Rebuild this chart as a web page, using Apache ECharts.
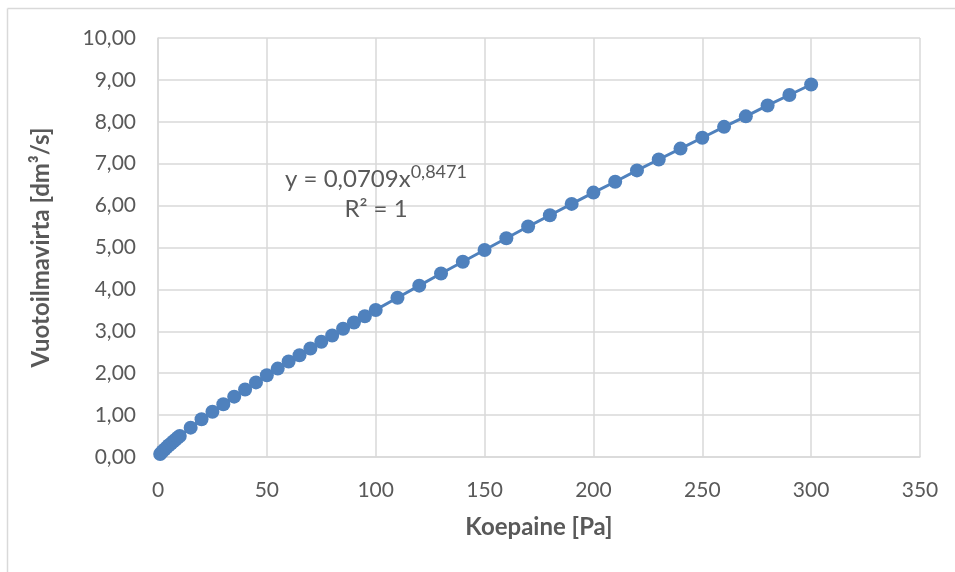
<!DOCTYPE html>
<html>
<head>
<meta charset="utf-8">
<script src="https://cdn.jsdelivr.net/npm/echarts@6/dist/echarts.min.js"></script>
<style>
html,body{margin:0;padding:0;background:#fff;}
#chart{width:955px;height:572px;}
</style>
</head>
<body>
<div id="chart"></div>
<script>
// Koepaine [Pa]
const pressures = [1,2,3,4,5,6,7,8,9,10,15,20,25,30,35,40,45,50,55,60,65,70,75,80,85,90,95,100,
  110,120,130,140,150,160,170,180,190,200,210,220,230,240,250,260,270,280,290,300];
// Vuotoilmavirta [dm3/s]
const flows = [0.07,0.13,0.18,0.23,0.28,0.32,0.37,0.41,0.46,0.50,0.70,0.90,1.08,1.26,1.44,1.61,1.78,1.95,2.11,2.28,2.43,2.59,2.75,2.90,3.06,3.21,3.36,3.51,
  3.80,4.09,4.38,4.66,4.94,5.22,5.50,5.77,6.04,6.31,6.57,6.84,7.10,7.36,7.62,7.88,8.13,8.39,8.64,8.89];
const xTicks = {min:0, max:350, interval:50};
const yTicks = {min:0, max:10, interval:1};
const xTitle = 'Koepaine [Pa]';
const yTitle = 'Vuotoilmavirta [dm³/s]';
const eqText = 'y = 0,0709x';
const eqExp = '0,8471';
const r2Text = 'R² = 1';

const font = 'Lato, "Open Sans", sans-serif';
const chart = echarts.init(document.getElementById('chart'));
const points = pressures.map((p,i)=>[p, flows[i]]);
chart.setOption({
  animation:false,
  backgroundColor:'#ffffff',
  grid:{left:158, right:35, top:38, bottom:115, containLabel:false},
  xAxis:{
    type:'value', min:xTicks.min, max:xTicks.max, interval:xTicks.interval,
    name:xTitle, nameLocation:'middle', nameGap:58,
    nameTextStyle:{fontFamily:font, fontSize:24, fontWeight:'bold', color:'#595959'},
    axisLine:{show:true, lineStyle:{color:'#d9d9d9', width:1.5}},
    axisTick:{show:false},
    axisLabel:{fontFamily:font, fontSize:21, color:'#595959', margin:23},
    splitLine:{show:true, lineStyle:{color:'#d9d9d9', width:1.5}}
  },
  yAxis:{
    type:'value', min:yTicks.min, max:yTicks.max, interval:yTicks.interval,
    name:yTitle, nameLocation:'middle', nameGap:105, nameRotate:90,
    nameTextStyle:{fontFamily:font, fontSize:24, fontWeight:'bold', color:'#595959'},
    axisLine:{show:true, lineStyle:{color:'#d9d9d9', width:1.5}},
    axisTick:{show:false},
    axisLabel:{fontFamily:font, fontSize:21, color:'#595959', margin:22,
      formatter:v=>v.toFixed(2).replace('.',',')},
    splitLine:{show:true, lineStyle:{color:'#d9d9d9', width:1.5}}
  },
  series:[{
    type:'line', data:points, symbol:'circle', symbolSize:14,
    itemStyle:{color:'#4F81BD'},
    lineStyle:{color:'#4F81BD', width:3},
    z:5
  }],
  graphic:[
    {type:'line', shape:{x1:7.5,y1:8.5,x2:955,y2:8.5}, style:{stroke:'#d9d9d9', lineWidth:1.5}, silent:true},
    {type:'line', shape:{x1:7.5,y1:8.5,x2:7.5,y2:572}, style:{stroke:'#d9d9d9', lineWidth:1.5}, silent:true},
    {type:'text', x:376, y:163, z:10,
      style:{text:'{a|'+eqText+'}{b|'+eqExp+'}', align:'center', rich:{
        a:{fontFamily:font, fontSize:24, fill:'#595959', verticalAlign:'bottom', lineHeight:28},
        b:{fontFamily:font, fontSize:18, fill:'#595959', verticalAlign:'top', lineHeight:28, padding:[0,0,12,0]}
      }}},
    {type:'text', x:376, y:197, z:10,
      style:{text:r2Text, align:'center', fontFamily:font, fontSize:24, fill:'#595959'}}
  ]
});
</script>
</body>
</html>
